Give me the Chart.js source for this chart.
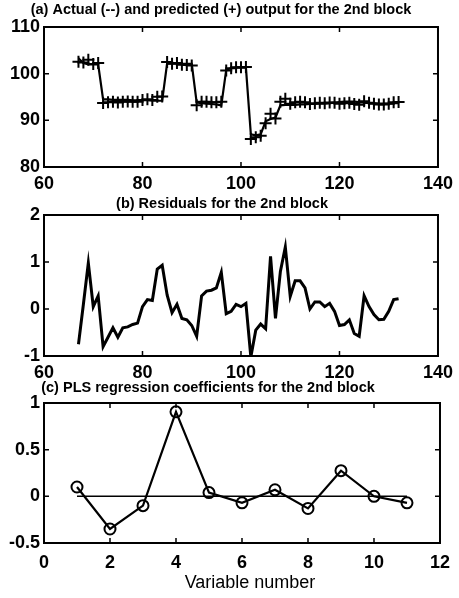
<!DOCTYPE html>
<html><head><meta charset="utf-8">
<script src="https://cdn.jsdelivr.net/npm/chart.js@4"></script>
<style>
html,body{margin:0;padding:0;background:#fff;}
#wrap{position:relative;width:459px;height:598px;overflow:hidden;background:#fff}
canvas{position:absolute;left:0}
</style></head><body>
<div id="wrap">
<canvas id="ca" width="459" height="195" style="top:0px"></canvas>
<canvas id="cb" width="459" height="185" style="top:195px"></canvas>
<canvas id="cc" width="459" height="218" style="top:380px"></canvas>
</div>
<script>
// ---------- data ----------
const timeIndex = [67,68,69,70,71,72,73,74,75,76,77,78,79,80,81,82,83,84,85,86,87,88,89,90,91,92,93,94,95,96,97,98,99,100,101,102,103,104,105,106,107,108,109,110,111,112,113,114,115,116,117,118,119,120,121,122,123,124,125,126,127,128,129,130,131,132];
const actualOutput = [103.3,102.3,102.0,102.0,102.0,
  94.5,94.5,94.4,94.4,94.4,94.4,94.3,94.3,94.3,94.3,94.2,94.2,94.2,
  102.2,102.2,102.2,102.1,102.1,102.1,
  93.8,93.7,93.6,93.5,93.4,93.2,
  100.8,101.2,101.3,101.3,101.3,
  87.0,86.8,87.0,
  89.8,90.3,90.6,
  93.2,93.3,93.3,93.3,93.4,93.4,93.5,93.5,93.6,93.6,93.7,93.8,93.9,94.0,94.0,94.0,93.9,93.8,93.7,93.7,93.6,93.6,93.6,93.7,93.7];
const predictedOutput = [102.55,102.4,102.98,102.05,102.28,
  93.7,93.9,94.0,93.8,94.0,94.02,93.97,94.0,94.35,94.5,94.38,95.05,95.13,
  102.5,102.12,102.3,101.9,101.87,101.75,
  93.22,93.98,93.98,93.9,93.85,93.98,
  100.7,101.15,101.4,101.35,101.42,
  85.98,86.35,86.68,
  89.38,91.42,90.4,
  94.0,94.62,93.57,93.9,94.0,93.85,93.5,93.65,93.75,93.65,93.82,93.75,93.55,93.67,93.77,93.48,93.32,94.08,93.75,93.58,93.37,93.38,93.55,93.9,93.92];
const residuals = [-0.75,0.10,0.98,0.05,0.28,
  -0.80,-0.60,-0.40,-0.60,-0.40,-0.38,-0.33,-0.30,0.05,0.20,0.18,0.85,0.93,
  0.30,-0.08,0.10,-0.20,-0.23,-0.35,
  -0.58,0.28,0.38,0.40,0.45,0.78,
  -0.10,-0.05,0.10,0.05,0.12,
  -1.02,-0.45,-0.32,
  -0.42,1.12,-0.20,
  0.80,1.32,0.27,0.60,0.60,0.45,0.00,0.15,0.15,0.05,0.12,-0.05,-0.35,-0.33,-0.23,-0.52,-0.58,0.28,0.05,-0.12,-0.23,-0.22,-0.05,0.20,0.22];
const variableNumber = [1,2,3,4,5,6,7,8,9,10,11];
const plsCoefficients = [0.10,-0.35,-0.10,0.905,0.04,-0.07,0.07,-0.13,0.275,0.0,-0.07];
const zeroLineX = [1,11];
const zeroLineY = [0,0];

const xTicksAB = [60,80,100,120,140];
const yTicksA = [80,90,100,110];
const yTicksB = [-1,0,1,2];
const xTicksC = [0,2,4,6,8,10,12];
const yTicksC = [-0.5,0,0.5,1];

const titleA = "(a) Actual (--) and predicted (+) output for the 2nd block";
const titleB = "(b) Residuals for the 2nd block";
const titleC = "(c) PLS regression coefficients for the 2nd block";
const xLabelC = "Variable number";

// ---------- helpers ----------
const FAM = '"Liberation Sans", Arial, Helvetica, sans-serif';
const pts = (xs, ys) => xs.map((x, i) => ({x: x, y: ys[i]}));

const framePlugin = {
  id: 'matlabFrame',
  afterDatasetsDraw(chart) {
    const {ctx, chartArea: a, scales} = chart;
    ctx.save();
    ctx.strokeStyle = '#000';
    ctx.lineWidth = 2;
    ctx.strokeRect(a.left, a.top, a.right - a.left, a.bottom - a.top);
    ctx.lineWidth = 1.5;
    const L = 5;
    scales.x.ticks.forEach(t => {
      const px = scales.x.getPixelForValue(t.value);
      ctx.beginPath();
      ctx.moveTo(px, a.bottom); ctx.lineTo(px, a.bottom - L);
      ctx.moveTo(px, a.top); ctx.lineTo(px, a.top + L);
      ctx.stroke();
    });
    scales.y.ticks.forEach(t => {
      const py = scales.y.getPixelForValue(t.value);
      ctx.beginPath();
      ctx.moveTo(a.left, py); ctx.lineTo(a.left + L, py);
      ctx.moveTo(a.right, py); ctx.lineTo(a.right - L, py);
      ctx.stroke();
    });
    ctx.restore();
  },
  afterDraw(chart) {
    const items = (chart.options.plugins.matlabFrame || {}).texts || [];
    const ctx = chart.ctx;
    ctx.save();
    ctx.fillStyle = '#000';
    ctx.textAlign = 'center';
    ctx.textBaseline = 'middle';
    items.forEach(it => {
      ctx.font = it.font;
      ctx.fillText(it.text, it.x, it.y);
    });
    ctx.restore();
  }
};

function axisOpts(min, max, ticks, fitSize, isX, pad) {
  return {
    type: 'linear',
    min: min, max: max,
    grid: {display: false, drawTicks: false},
    border: {display: false},
    afterBuildTicks: s => { s.ticks = ticks.map(v => ({value: v})); },
    afterFit: s => { if (isX) s.height = fitSize; else s.width = fitSize; },
    ticks: {
      color: '#000',
      font: {family: FAM, size: 18, weight: 'bold'},
      padding: pad,
      maxRotation: 0,
      autoSkip: false,
      callback: v => String(v)
    }
  };
}

function makeChart(id, datasets, opts) {
  return new Chart(document.getElementById(id), {
    type: 'line',
    data: {datasets: datasets},
    options: {
      responsive: false,
      animation: false,
      events: [],
      layout: {padding: {left: 0, right: 17, top: opts.top, bottom: 0}},
      plugins: {legend: {display: false}, tooltip: {enabled: false}, title: {display: false},
        matlabFrame: {texts: opts.texts}},
      scales: {
        x: axisOpts(opts.xmin, opts.xmax, opts.xticks, opts.xh, true, opts.xpad),
        y: axisOpts(opts.ymin, opts.ymax, opts.yticks, 44, false, 4)
      }
    },
    plugins: [framePlugin]
  });
}

const TFONT = 'bold 14.5px ' + FAM;

// (a)
makeChart('ca', [
  {data: pts(timeIndex, actualOutput), borderColor: '#000', borderWidth: 2.2, pointRadius: 0, tension: 0},
  {data: pts(timeIndex, predictedOutput), showLine: false, pointStyle: 'cross', pointRadius: 6,
   pointBorderWidth: 2, pointBorderColor: '#000', borderColor: '#000'}
], {top: 27, xh: 28, xpad: 6, xmin: 60, xmax: 140, xticks: xTicksAB, ymin: 80, ymax: 110, yticks: yTicksA,
    texts: [{text: titleA, x: 221, y: 10, font: TFONT}]});

// (b)
makeChart('cb', [
  {data: pts(timeIndex, residuals), borderColor: '#000', borderWidth: 3, pointRadius: 0, tension: 0}
], {top: 20, xh: 24, xpad: 6, xmin: 60, xmax: 140, xticks: xTicksAB, ymin: -1, ymax: 2, yticks: yTicksB,
    texts: [{text: titleB, x: 222, y: 9, font: TFONT}]});

// (c)
makeChart('cc', [
  {data: pts(zeroLineX, zeroLineY), borderColor: '#000', borderWidth: 1.5, pointRadius: 0},
  {data: pts(variableNumber, plsCoefficients), borderColor: '#000', borderWidth: 2.2, tension: 0,
   pointStyle: 'circle', pointRadius: 5.5, pointBorderWidth: 2, pointBorderColor: '#000',
   pointBackgroundColor: 'rgba(0,0,0,0)'}
], {top: 23, xh: 55, xpad: 9, xmin: 0, xmax: 12, xticks: xTicksC, ymin: -0.5, ymax: 1, yticks: yTicksC,
    texts: [{text: titleC, x: 208, y: 8, font: TFONT},
            {text: xLabelC, x: 250, y: 203, font: '18px ' + FAM}]});
</script>
</body></html>
